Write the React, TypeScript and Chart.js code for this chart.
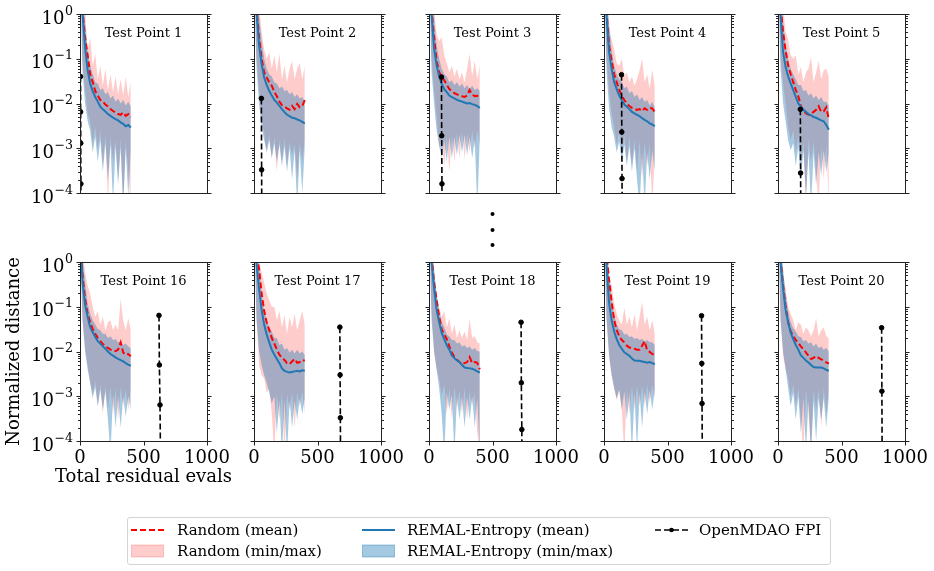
import React, { useEffect, useRef } from "react";
import { Chart, registerables } from "chart.js";

Chart.register(...registerables);

const PAGE_W = 934;
const PAGE_H = 571;
const FONT = '"DejaVu Serif", serif';

// Evaluation counts at which the sampled curves are recorded
const evals = [10, 20, 40, 60, 80, 100, 120, 140, 160, 180, 200, 220, 240, 260, 280, 300, 320, 340, 360, 380, 400];

// Axis ticks
const xTickValues = [0, 500, 1000];
const xTickLabels = ["0", "500", "1000"];
const yTickExponents = [0, -1, -2, -3, -4];

// ---- Test Point 1 ----
const tp1RandMean = [3.5, 1.2, 0.3, 0.12, 0.045, 0.03, 0.019, 0.015, 0.012, 0.011, 0.0095, 0.0086, 0.0075, 0.0068, 0.0063, 0.0058, 0.0056, 0.0063, 0.0053, 0.0058, 0.0049];
const tp1RandMin = [0.6, 0.08, 0.02, 0.006, 0.004, 0.0012, 0.003, 0.0009, 0.0025, 0.0004, 0.002, 0.00006, 0.0018, 0.0005, 0.0015, 0.0002, 0.0016, 0.00005, 0.0014, 0.0003, 0.00005];
const tp1RandMax = [6, 4, 1.3, 0.16, 0.3, 0.07, 0.13, 0.035, 0.07, 0.025, 0.06, 0.02, 0.045, 0.018, 0.04, 0.016, 0.035, 0.015, 0.04, 0.014, 0.03];
const tp1RemalMean = [3.2, 1.0, 0.18, 0.056, 0.028, 0.019, 0.014, 0.011, 0.0085, 0.0074, 0.0066, 0.0058, 0.0053, 0.0048, 0.0045, 0.0042, 0.0038, 0.0035, 0.0031, 0.0033, 0.0029];
const tp1RemalMin = [0.5, 0.05, 0.01, 0.004, 0.0025, 0.0008, 0.0018, 0.0005, 0.0015, 0.0003, 0.0013, 0.0002, 0.0012, 0.00006, 0.0011, 0.00015, 0.001, 0.00005, 0.001, 0.00008, 0.0009];
const tp1RemalMax = [5, 3, 0.6, 0.15, 0.07, 0.045, 0.03, 0.028, 0.02, 0.022, 0.016, 0.018, 0.013, 0.015, 0.011, 0.013, 0.01, 0.012, 0.009, 0.011, 0.0085];
const tp1FpiX = [4, 5, 6, 7, 8];
const tp1FpiY = [0.04, 0.0065, 0.0013, 0.00016, 0.00002];

// ---- Test Point 2 ----
const tp2RandMean = [3.8, 1.3, 0.3, 0.1, 0.05, 0.038, 0.03, 0.025, 0.018, 0.0145, 0.011, 0.0092, 0.0085, 0.0078, 0.0073, 0.0088, 0.0075, 0.0098, 0.0082, 0.0087, 0.012];
const tp2RandMin = [0.6, 0.1, 0.02, 0.005, 0.0022, 0.0009, 0.002, 0.0006, 0.0018, 0.0003, 0.0015, 0.0005, 0.0016, 0.0004, 0.0014, 0.0007, 0.0012, 0.0002, 0.0013, 0.0005, 0.0015];
const tp2RandMax = [6, 4, 1.5, 0.4, 0.16, 0.1, 0.14, 0.06, 0.12, 0.05, 0.13, 0.035, 0.07, 0.03, 0.06, 0.09, 0.035, 0.06, 0.08, 0.035, 0.07];
const tp2RemalMean = [3.5, 1.1, 0.2, 0.075, 0.038, 0.026, 0.019, 0.015, 0.012, 0.0105, 0.0088, 0.0075, 0.0064, 0.0056, 0.0052, 0.0048, 0.0047, 0.0044, 0.0042, 0.0039, 0.0036];
const tp2RemalMin = [0.5, 0.06, 0.01, 0.003, 0.0015, 0.0008, 0.0015, 0.0006, 0.0013, 0.0005, 0.0012, 0.0004, 0.0011, 0.0003, 0.001, 0.0002, 0.0009, 0.00005, 0.0009, 0.0001, 0.001];
const tp2RemalMax = [5, 3, 0.9, 0.25, 0.1, 0.06, 0.045, 0.04, 0.03, 0.028, 0.022, 0.024, 0.019, 0.02, 0.016, 0.018, 0.014, 0.016, 0.013, 0.014, 0.011];
const tp2FpiX = [58, 60, 62];
const tp2FpiY = [0.013, 0.00033, 0.00001];

// ---- Test Point 3 ----
const tp3RandMean = [3.5, 1.2, 0.3, 0.09, 0.05, 0.04, 0.033, 0.026, 0.021, 0.019, 0.017, 0.016, 0.015, 0.0145, 0.014, 0.015, 0.02, 0.016, 0.0145, 0.0148, 0.0145];
const tp3RandMin = [0.6, 0.1, 0.02, 0.005, 0.0009, 0.002, 0.0004, 0.0018, 0.0003, 0.002, 0.0005, 0.0022, 0.0006, 0.0025, 0.0006, 0.0022, 0.0008, 0.0025, 0.001, 0.0025, 0.0012];
const tp3RandMax = [6, 4, 1.5, 0.35, 0.25, 0.3, 0.12, 0.08, 0.05, 0.07, 0.04, 0.06, 0.035, 0.05, 0.03, 0.06, 0.13, 0.04, 0.09, 0.035, 0.07];
const tp3RemalMean = [3.2, 1.0, 0.17, 0.07, 0.04, 0.027, 0.021, 0.018, 0.015, 0.0138, 0.013, 0.012, 0.0115, 0.011, 0.0105, 0.01, 0.0102, 0.0097, 0.0093, 0.0088, 0.0079];
const tp3RemalMin = [0.5, 0.05, 0.01, 0.0025, 0.0012, 0.0006, 0.0015, 0.0005, 0.0018, 0.0006, 0.0018, 0.0007, 0.002, 0.0008, 0.002, 0.0007, 0.0018, 0.0006, 0.0016, 0.00005, 0.0015];
const tp3RemalMax = [5, 3, 0.8, 0.2, 0.1, 0.06, 0.045, 0.04, 0.03, 0.033, 0.026, 0.03, 0.024, 0.028, 0.022, 0.026, 0.021, 0.025, 0.02, 0.022, 0.019];
const tp3FpiX = [98, 100, 102, 104];
const tp3FpiY = [0.039, 0.0019, 0.00016, 0.00001];

// ---- Test Point 4 ----
const tp4RandMean = [3.2, 1.1, 0.2, 0.09, 0.045, 0.03, 0.02, 0.015, 0.012, 0.0098, 0.0088, 0.008, 0.0076, 0.0072, 0.0075, 0.0068, 0.0078, 0.0072, 0.008, 0.0078, 0.0064];
const tp4RandMin = [0.6, 0.1, 0.02, 0.006, 0.003, 0.0012, 0.0025, 0.0007, 0.002, 0.0005, 0.0018, 0.0004, 0.0016, 0.0003, 0.0015, 0.0002, 0.0014, 0.0004, 0.0013, 0.00005, 0.0008];
const tp4RandMax = [6, 4, 0.5, 0.27, 0.16, 0.08, 0.07, 0.1, 0.04, 0.05, 0.03, 0.04, 0.025, 0.035, 0.055, 0.1, 0.03, 0.045, 0.022, 0.056, 0.025];
const tp4RemalMean = [3.0, 0.9, 0.14, 0.06, 0.03, 0.021, 0.015, 0.012, 0.0095, 0.0085, 0.0075, 0.0065, 0.006, 0.0056, 0.0052, 0.0047, 0.0043, 0.004, 0.0036, 0.0034, 0.0031];
const tp4RemalMin = [0.5, 0.05, 0.008, 0.003, 0.0018, 0.0008, 0.0014, 0.0005, 0.0012, 0.0004, 0.0011, 0.0003, 0.001, 0.0002, 0.00005, 0.0008, 0.00005, 0.0008, 0.0002, 0.0009, 0.0003];
const tp4RemalMax = [5, 3, 0.6, 0.15, 0.07, 0.045, 0.035, 0.03, 0.022, 0.024, 0.017, 0.019, 0.014, 0.016, 0.012, 0.014, 0.011, 0.012, 0.009, 0.011, 0.008];
const tp4FpiX = [138, 140, 142, 144];
const tp4FpiY = [0.044, 0.0023, 0.00021, 0.00001];

// ---- Test Point 5 ----
const tp5RandMean = [3.5, 1.5, 0.4, 0.15, 0.07, 0.045, 0.03, 0.02, 0.0145, 0.009, 0.0068, 0.006, 0.0056, 0.0058, 0.0065, 0.0072, 0.0087, 0.0065, 0.0067, 0.0082, 0.0045];
const tp5RandMin = [0.6, 0.1, 0.03, 0.01, 0.003, 0.0015, 0.0025, 0.0008, 0.002, 0.0004, 0.0015, 0.00005, 0.0015, 0.0005, 0.0014, 0.0003, 0.00005, 0.0012, 0.0002, 0.0012, 0.00005];
const tp5RandMax = [6, 4, 1.5, 0.4, 0.27, 0.12, 0.1, 0.12, 0.045, 0.065, 0.03, 0.05, 0.06, 0.11, 0.03, 0.05, 0.09, 0.035, 0.055, 0.06, 0.04];
const tp5RemalMean = [3.0, 0.9, 0.14, 0.065, 0.04, 0.028, 0.02, 0.014, 0.01, 0.0085, 0.0072, 0.0065, 0.0058, 0.0054, 0.005, 0.0048, 0.0045, 0.0042, 0.004, 0.0033, 0.0026];
const tp5RemalMin = [0.5, 0.06, 0.01, 0.004, 0.0015, 0.0009, 0.0013, 0.0004, 0.0011, 0.0002, 0.0009, 0.00008, 0.0008, 0.00005, 0.0008, 0.00015, 0.0008, 0.00025, 0.0009, 0.0003, 0.0008];
const tp5RemalMax = [5, 3, 0.7, 0.2, 0.1, 0.06, 0.045, 0.035, 0.026, 0.026, 0.019, 0.02, 0.015, 0.017, 0.013, 0.015, 0.012, 0.014, 0.011, 0.011, 0.009];
const tp5FpiX = [176, 178, 180];
const tp5FpiY = [0.0074, 0.00028, 0.00001];

// ---- Test Point 16 ----
const tp16RandMean = [1.5, 0.5, 0.15, 0.07, 0.045, 0.032, 0.025, 0.02, 0.017, 0.0148, 0.013, 0.012, 0.011, 0.0105, 0.0102, 0.011, 0.016, 0.0095, 0.0085, 0.0088, 0.0078];
const tp16RandMin = [0.3, 0.05, 0.012, 0.005, 0.002, 0.0011, 0.0022, 0.0006, 0.0018, 0.0004, 0.0017, 0.0005, 0.0016, 0.0004, 0.0015, 0.0003, 0.0016, 0.0006, 0.0014, 0.0005, 0.0015];
const tp16RandMax = [4, 2, 0.6, 0.3, 0.2, 0.1, 0.06, 0.08, 0.04, 0.06, 0.03, 0.045, 0.05, 0.03, 0.04, 0.03, 0.15, 0.05, 0.03, 0.055, 0.03];
const tp16RemalMean = [1.3, 0.35, 0.11, 0.06, 0.035, 0.027, 0.021, 0.017, 0.015, 0.013, 0.0115, 0.01, 0.0088, 0.0081, 0.0074, 0.0068, 0.0064, 0.006, 0.0055, 0.0051, 0.0048];
const tp16RemalMin = [0.3, 0.05, 0.01, 0.004, 0.002, 0.0009, 0.0016, 0.0006, 0.0014, 0.0005, 0.0013, 0.0003, 0.00005, 0.0011, 0.0002, 0.001, 0.0002, 0.001, 0.00035, 0.001, 0.0005];
const tp16RemalMax = [2.5, 1.2, 0.35, 0.12, 0.07, 0.05, 0.04, 0.032, 0.03, 0.025, 0.025, 0.02, 0.022, 0.018, 0.019, 0.016, 0.017, 0.014, 0.015, 0.013, 0.012];
const tp16FpiX = [622, 625, 630, 634];
const tp16FpiY = [0.064, 0.005, 0.00064, 0.00004];

// ---- Test Point 17 ----
const tp17RandMean = [3.5, 1.5, 0.7, 0.2, 0.08, 0.045, 0.03, 0.02, 0.015, 0.011, 0.0085, 0.0072, 0.0065, 0.0055, 0.0052, 0.006, 0.0068, 0.0056, 0.0058, 0.0065, 0.0062];
const tp17RandMin = [0.5, 0.05, 0.005, 0.003, 0.0025, 0.0012, 0.0015, 0.0004, 0.00005, 0.0012, 0.0003, 0.0012, 0.00005, 0.0011, 0.0005, 0.0012, 0.0002, 0.0012, 0.0006, 0.0013, 0.0004];
const tp17RandMax = [5, 3, 1.0, 0.6, 0.35, 0.2, 0.14, 0.1, 0.1, 0.05, 0.08, 0.035, 0.065, 0.025, 0.06, 0.035, 0.07, 0.03, 0.05, 0.08, 0.04];
const tp17RemalMean = [3.0, 0.9, 0.25, 0.085, 0.04, 0.024, 0.016, 0.011, 0.0085, 0.0068, 0.0055, 0.0042, 0.0037, 0.0035, 0.0034, 0.0035, 0.0036, 0.0037, 0.0036, 0.0038, 0.0037];
const tp17RemalMin = [0.5, 0.05, 0.01, 0.005, 0.003, 0.002, 0.0012, 0.0007, 0.001, 0.00015, 0.0008, 0.00005, 0.0008, 0.00005, 0.0008, 0.0002, 0.0008, 0.0003, 0.0009, 0.0004, 0.0009];
const tp17RemalMax = [5, 3, 0.8, 0.2, 0.08, 0.05, 0.035, 0.028, 0.02, 0.02, 0.014, 0.015, 0.011, 0.012, 0.0095, 0.011, 0.009, 0.011, 0.009, 0.01, 0.0085];
const tp17FpiX = [676, 678, 680, 682];
const tp17FpiY = [0.035, 0.003, 0.00033, 0.00002];

// ---- Test Point 18 ----
const tp18RandMean = [3.5, 1.4, 0.35, 0.14, 0.06, 0.031, 0.024, 0.019, 0.013, 0.0095, 0.0075, 0.0065, 0.0058, 0.0052, 0.0055, 0.0058, 0.0075, 0.0055, 0.0058, 0.0056, 0.004];
const tp18RandMin = [0.5, 0.08, 0.01, 0.004, 0.0025, 0.001, 0.0018, 0.0004, 0.0015, 0.0003, 0.0016, 0.0005, 0.0014, 0.0004, 0.0015, 0.0003, 0.0013, 0.0006, 0.0012, 0.00015, 0.00006];
const tp18RandMax = [5, 3, 0.5, 0.17, 0.1, 0.06, 0.08, 0.035, 0.055, 0.025, 0.04, 0.02, 0.03, 0.02, 0.028, 0.018, 0.055, 0.02, 0.022, 0.016, 0.015];
const tp18RemalMean = [3.2, 1.0, 0.26, 0.085, 0.045, 0.026, 0.019, 0.0138, 0.011, 0.0082, 0.0071, 0.0063, 0.0058, 0.005, 0.0044, 0.0043, 0.0042, 0.0041, 0.0039, 0.0036, 0.0034];
const tp18RemalMin = [0.5, 0.05, 0.01, 0.004, 0.0015, 0.0004, 0.00005, 0.0012, 0.0005, 0.0011, 0.00005, 0.001, 0.0003, 0.001, 0.0002, 0.001, 0.0003, 0.001, 0.0002, 0.0009, 0.00005];
const tp18RemalMax = [5, 3, 0.7, 0.2, 0.08, 0.045, 0.035, 0.024, 0.022, 0.018, 0.018, 0.015, 0.016, 0.013, 0.014, 0.012, 0.013, 0.011, 0.012, 0.0102, 0.01];
const tp18FpiX = [725, 727, 731, 733];
const tp18FpiY = [0.045, 0.002, 0.00018, 0.00001];

// ---- Test Point 19 ----
const tp19RandMean = [3.0, 1.5, 0.4, 0.13, 0.05, 0.03, 0.022, 0.018, 0.016, 0.0135, 0.0123, 0.012, 0.0115, 0.011, 0.011, 0.0135, 0.017, 0.0105, 0.0098, 0.0088, 0.0082];
const tp19RandMin = [0.4, 0.06, 0.008, 0.003, 0.0015, 0.0008, 0.0014, 0.0005, 0.00005, 0.0014, 0.0004, 0.0016, 0.0005, 0.0017, 0.0006, 0.0017, 0.0006, 0.0018, 0.0007, 0.0018, 0.0009];
const tp19RandMax = [5, 3, 0.5, 0.3, 0.12, 0.07, 0.05, 0.04, 0.095, 0.04, 0.06, 0.035, 0.07, 0.03, 0.06, 0.13, 0.04, 0.06, 0.03, 0.05, 0.025];
const tp19RemalMean = [2.5, 0.8, 0.12, 0.05, 0.028, 0.019, 0.014, 0.0115, 0.0096, 0.0088, 0.008, 0.007, 0.0063, 0.0062, 0.0062, 0.006, 0.0058, 0.0056, 0.0058, 0.0055, 0.0052];
const tp19RemalMin = [0.4, 0.05, 0.008, 0.003, 0.0015, 0.0009, 0.0014, 0.0005, 0.0013, 0.0003, 0.0012, 0.00005, 0.0012, 0.00006, 0.0012, 0.0002, 0.0013, 0.0004, 0.0014, 0.0005, 0.0014];
const tp19RemalMax = [5, 3, 0.5, 0.15, 0.065, 0.04, 0.032, 0.03, 0.024, 0.025, 0.021, 0.022, 0.019, 0.02, 0.018, 0.019, 0.017, 0.018, 0.016, 0.016, 0.014];
const tp19FpiX = [768, 770, 772, 774];
const tp19FpiY = [0.063, 0.0054, 0.00069, 0.00005];

// ---- Test Point 20 ----
const tp20RandMean = [3.2, 1.2, 0.3, 0.1, 0.045, 0.028, 0.022, 0.018, 0.0155, 0.013, 0.0112, 0.0095, 0.008, 0.0068, 0.0072, 0.0079, 0.0072, 0.0067, 0.0062, 0.0057, 0.0054];
const tp20RandMin = [0.5, 0.06, 0.008, 0.004, 0.0025, 0.001, 0.0018, 0.0006, 0.0015, 0.0003, 0.00005, 0.0014, 0.0004, 0.00006, 0.0014, 0.0005, 0.0014, 0.0002, 0.0015, 0.0004, 0.0014];
const tp20RandMax = [5, 3, 0.5, 0.25, 0.1, 0.07, 0.05, 0.03, 0.045, 0.04, 0.025, 0.035, 0.03, 0.022, 0.03, 0.056, 0.022, 0.03, 0.035, 0.022, 0.02];
const tp20RemalMean = [3.0, 1.0, 0.25, 0.085, 0.045, 0.026, 0.019, 0.014, 0.011, 0.0082, 0.0072, 0.0063, 0.0057, 0.005, 0.0045, 0.0044, 0.0044, 0.0044, 0.0042, 0.0039, 0.0037];
const tp20RemalMin = [0.5, 0.05, 0.01, 0.004, 0.0015, 0.0006, 0.0012, 0.0003, 0.001, 0.00015, 0.0009, 0.00006, 0.0008, 0.00005, 0.0008, 0.0001, 0.0009, 0.0003, 0.0009, 0.0002, 0.0009];
const tp20RemalMax = [5, 3, 0.7, 0.2, 0.08, 0.045, 0.033, 0.028, 0.022, 0.021, 0.017, 0.018, 0.015, 0.016, 0.013, 0.015, 0.012, 0.013, 0.011, 0.012, 0.01];
const tp20FpiX = [816, 818, 820];
const tp20FpiY = [0.034, 0.0013, 0.00005];

type Panel = {
  title: string;
  randMean: number[];
  randMin: number[];
  randMax: number[];
  remalMean: number[];
  remalMin: number[];
  remalMax: number[];
  fpiX: number[];
  fpiY: number[];
};

const panels: Panel[] = [
  { title: "Test Point 1", randMean: tp1RandMean, randMin: tp1RandMin, randMax: tp1RandMax, remalMean: tp1RemalMean, remalMin: tp1RemalMin, remalMax: tp1RemalMax, fpiX: tp1FpiX, fpiY: tp1FpiY },
  { title: "Test Point 2", randMean: tp2RandMean, randMin: tp2RandMin, randMax: tp2RandMax, remalMean: tp2RemalMean, remalMin: tp2RemalMin, remalMax: tp2RemalMax, fpiX: tp2FpiX, fpiY: tp2FpiY },
  { title: "Test Point 3", randMean: tp3RandMean, randMin: tp3RandMin, randMax: tp3RandMax, remalMean: tp3RemalMean, remalMin: tp3RemalMin, remalMax: tp3RemalMax, fpiX: tp3FpiX, fpiY: tp3FpiY },
  { title: "Test Point 4", randMean: tp4RandMean, randMin: tp4RandMin, randMax: tp4RandMax, remalMean: tp4RemalMean, remalMin: tp4RemalMin, remalMax: tp4RemalMax, fpiX: tp4FpiX, fpiY: tp4FpiY },
  { title: "Test Point 5", randMean: tp5RandMean, randMin: tp5RandMin, randMax: tp5RandMax, remalMean: tp5RemalMean, remalMin: tp5RemalMin, remalMax: tp5RemalMax, fpiX: tp5FpiX, fpiY: tp5FpiY },
  { title: "Test Point 16", randMean: tp16RandMean, randMin: tp16RandMin, randMax: tp16RandMax, remalMean: tp16RemalMean, remalMin: tp16RemalMin, remalMax: tp16RemalMax, fpiX: tp16FpiX, fpiY: tp16FpiY },
  { title: "Test Point 17", randMean: tp17RandMean, randMin: tp17RandMin, randMax: tp17RandMax, remalMean: tp17RemalMean, remalMin: tp17RemalMin, remalMax: tp17RemalMax, fpiX: tp17FpiX, fpiY: tp17FpiY },
  { title: "Test Point 18", randMean: tp18RandMean, randMin: tp18RandMin, randMax: tp18RandMax, remalMean: tp18RemalMean, remalMin: tp18RemalMin, remalMax: tp18RemalMax, fpiX: tp18FpiX, fpiY: tp18FpiY },
  { title: "Test Point 19", randMean: tp19RandMean, randMin: tp19RandMin, randMax: tp19RandMax, remalMean: tp19RemalMean, remalMin: tp19RemalMin, remalMax: tp19RemalMax, fpiX: tp19FpiX, fpiY: tp19FpiY },
  { title: "Test Point 20", randMean: tp20RandMean, randMin: tp20RandMin, randMax: tp20RandMax, remalMean: tp20RemalMean, remalMin: tp20RemalMin, remalMax: tp20RemalMax, fpiX: tp20FpiX, fpiY: tp20FpiY },
];

// Grid of axes boxes (page pixels)
const colLefts = [80, 254, 429, 604, 778];
const rowTops = [14, 262];
const plotW = 127;
const plotH = 179;

const RED = "#ff0000";
const RED_FILL = "rgba(255,0,0,0.2)";
const BLUE = "#1f77b4";
const BLUE_FILL = "rgba(31,119,180,0.4)";
const NONE = "rgba(0,0,0,0)";

function toPoints(xs: number[], ys: number[]) {
  return ys.map((y, i) => ({ x: xs[i], y }));
}

// Spines, ticks, tick labels, titles and shared axis labels
function framePlugin(panel: Panel, row: number, col: number) {
  return {
    id: "panelFrame",
    afterDraw(chart: any) {
      const ctx: CanvasRenderingContext2D = chart.ctx;
      const a = chart.chartArea;
      const xs = chart.scales.x;
      const ys = chart.scales.y;
      const L = Math.round(a.left) + 0.5;
      const R = Math.round(a.right) + 0.5;
      const T = Math.round(a.top) + 0.5;
      const B = Math.round(a.bottom) + 0.5;
      ctx.save();
      ctx.strokeStyle = "#222";
      ctx.lineWidth = 1;
      ctx.setLineDash([]);
      ctx.beginPath();
      for (let e = -4; e <= 0; e++) {
        for (let k = 1; k <= 9; k++) {
          if (e === 0 && k > 1) continue;
          const y = Math.round(ys.getPixelForValue(k * Math.pow(10, e))) + 0.5;
          const len = k === 1 ? 4 : 2.5;
          ctx.moveTo(L - len, y);
          ctx.lineTo(L, y);
          ctx.moveTo(R, y);
          ctx.lineTo(R + len, y);
        }
      }
      if (row === 1) {
        for (const v of xTickValues) {
          const x = Math.round(xs.getPixelForValue(v)) + 0.5;
          ctx.moveTo(x, B);
          ctx.lineTo(x, B + 4);
        }
      }
      ctx.stroke();
      ctx.strokeRect(L, T, R - L, B - T);

      ctx.fillStyle = "#000";
      ctx.textBaseline = "alphabetic";
      if (col === 0) {
        for (const ex of yTickExponents) {
          const y = ys.getPixelForValue(Math.pow(10, ex));
          const sup = ex === 0 ? "0" : "\u2212" + String(-ex);
          ctx.font = `12.6px ${FONT}`;
          const sw = ctx.measureText(sup).width;
          const xr = a.left - 7;
          ctx.textAlign = "left";
          ctx.fillText(sup, xr - sw, y + 0.5);
          ctx.font = `18px ${FONT}`;
          const bw = ctx.measureText("10").width;
          ctx.fillText("10", xr - sw - bw - 0.5, y + 9.5);
        }
      }
      if (row === 1) {
        ctx.font = `18px ${FONT}`;
        ctx.textAlign = "center";
        xTickValues.forEach((v, i) => {
          ctx.fillText(xTickLabels[i], xs.getPixelForValue(v), a.bottom + 22);
        });
      }
      ctx.font = `13px ${FONT}`;
      ctx.textAlign = "center";
      ctx.fillText(panel.title, (a.left + a.right) / 2, a.top + 23);

      if (row === 1 && col === 0) {
        ctx.font = `18px ${FONT}`;
        ctx.textAlign = "center";
        ctx.fillText("Total residual evals", (a.left + a.right) / 2, 482);
        ctx.save();
        ctx.translate(19, (a.top + a.bottom) / 2);
        ctx.rotate(-Math.PI / 2);
        ctx.fillText("Normalized distance", 0, 0);
        ctx.restore();
      }
      if (row === 0 && col === 2) {
        // vertical ellipsis between the two rows
        const cx = (a.left + a.right) / 2;
        for (const cy of [214, 230, 245]) {
          ctx.beginPath();
          ctx.arc(cx, cy, 2, 0, Math.PI * 2);
          ctx.fill();
        }
      }
      ctx.restore();
    },
  };
}

function buildConfig(panel: Panel, row: number, col: number): any {
  const left = colLefts[col];
  const top = rowTops[row];
  const lineBase = { pointRadius: 0, tension: 0, fill: false };
  return {
    type: "line",
    data: {
      datasets: [
        {
          label: "OpenMDAO FPI",
          data: toPoints(panel.fpiX, panel.fpiY),
          borderColor: "#000",
          backgroundColor: "#000",
          borderWidth: 1.6,
          borderDash: [6, 3],
          pointRadius: 2.3,
          pointBorderWidth: 1,
          pointBackgroundColor: "#000",
          pointBorderColor: "#000",
          tension: 0,
          fill: false,
        },
        { ...lineBase, label: "REMAL-Entropy (mean)", data: toPoints(evals, panel.remalMean), borderColor: BLUE, borderWidth: 2 },
        { ...lineBase, label: "Random (mean)", data: toPoints(evals, panel.randMean), borderColor: RED, borderWidth: 2, borderDash: [6, 3] },
        { ...lineBase, label: "REMAL-Entropy (min/max)", data: toPoints(evals, panel.remalMax), borderColor: NONE, borderWidth: 0, backgroundColor: BLUE_FILL, fill: { target: "+1" } },
        { ...lineBase, label: "REMAL-Entropy min", data: toPoints(evals, panel.remalMin), borderColor: NONE, borderWidth: 0 },
        { ...lineBase, label: "Random (min/max)", data: toPoints(evals, panel.randMax), borderColor: NONE, borderWidth: 0, backgroundColor: RED_FILL, fill: { target: "+1" } },
        { ...lineBase, label: "Random min", data: toPoints(evals, panel.randMin), borderColor: NONE, borderWidth: 0 },
      ],
    },
    options: {
      responsive: false,
      maintainAspectRatio: false,
      animation: false,
      devicePixelRatio: 1,
      events: [],
      layout: {
        padding: { left, top, right: PAGE_W - left - plotW, bottom: PAGE_H - top - plotH },
      },
      scales: {
        x: { type: "linear", min: 0, max: 1000, display: false },
        y: { type: "logarithmic", min: 1e-4, max: 1, display: false },
      },
      plugins: {
        legend: { display: false },
        tooltip: { enabled: false },
        title: { display: false },
      },
    },
    plugins: [framePlugin(panel, row, col)],
  };
}

type LegendKind = "dash" | "redbox" | "solid" | "bluebox" | "fpi";

const legendEntries: { label: string; kind: LegendKind; hx: number; tx: number; cy: number }[] = [
  { label: "Random (mean)", kind: "dash", hx: 131, tx: 177, cy: 530 },
  { label: "Random (min/max)", kind: "redbox", hx: 131, tx: 177, cy: 551 },
  { label: "REMAL-Entropy (mean)", kind: "solid", hx: 362, tx: 407, cy: 530 },
  { label: "REMAL-Entropy (min/max)", kind: "bluebox", hx: 362, tx: 407, cy: 551 },
  { label: "OpenMDAO FPI", kind: "fpi", hx: 655, tx: 699, cy: 530 },
];

function LegendHandle({ kind }: { kind: LegendKind }) {
  const w = 33;
  const h = 14;
  let body: any = null;
  if (kind === "dash") body = <line x1={0} y1={7} x2={w} y2={7} stroke={RED} strokeWidth={2} strokeDasharray="6 3" />;
  if (kind === "solid") body = <line x1={0} y1={7} x2={w} y2={7} stroke={BLUE} strokeWidth={2} />;
  if (kind === "redbox") body = <rect x={0.5} y={1} width={w - 1} height={12} fill={RED_FILL} stroke={RED_FILL} />;
  if (kind === "bluebox") body = <rect x={0.5} y={1} width={w - 1} height={12} fill={BLUE_FILL} stroke={BLUE_FILL} />;
  if (kind === "fpi")
    body = (
      <g>
        <line x1={0} y1={7} x2={w} y2={7} stroke="#000" strokeWidth={1.6} strokeDasharray="6 3" />
        <circle cx={w / 2} cy={7} r={2.3} fill="#000" />
      </g>
    );
  return (
    <svg width={w} height={h} style={{ display: "block" }}>
      {body}
    </svg>
  );
}

export default function App() {
  const refs = useRef<(HTMLCanvasElement | null)[]>([]);

  useEffect(() => {
    const charts = panels.map((p, i) => {
      const row = Math.floor(i / 5);
      const col = i % 5;
      return new Chart(refs.current[i] as HTMLCanvasElement, buildConfig(p, row, col));
    });
    return () => charts.forEach((c) => c.destroy());
  }, []);

  return (
    <div style={{ position: "absolute", left: 0, top: 0, width: PAGE_W, height: PAGE_H, background: "#fff", fontFamily: FONT, overflow: "hidden" }}>
      {panels.map((p, i) => (
        <canvas
          key={p.title}
          ref={(el) => {
            refs.current[i] = el;
          }}
          width={PAGE_W}
          height={PAGE_H}
          style={{ position: "absolute", left: 0, top: 0, width: PAGE_W, height: PAGE_H }}
        />
      ))}
      <div
        style={{
          position: "absolute",
          left: 127,
          top: 517,
          width: 704,
          height: 48,
          boxSizing: "border-box",
          border: "1px solid #d4d4d4",
          borderRadius: 3,
          background: "rgba(255,255,255,0.8)",
        }}
      />
      {legendEntries.map((e) => (
        <React.Fragment key={e.label}>
          <div style={{ position: "absolute", left: e.hx, top: e.cy - 7 }}>
            <LegendHandle kind={e.kind} />
          </div>
          <div
            style={{
              position: "absolute",
              left: e.tx,
              top: e.cy - 10,
              height: 20,
              lineHeight: "20px",
              fontSize: 15,
              color: "#000",
              whiteSpace: "nowrap",
            }}
          >
            {e.label}
          </div>
        </React.Fragment>
      ))}
    </div>
  );
}
